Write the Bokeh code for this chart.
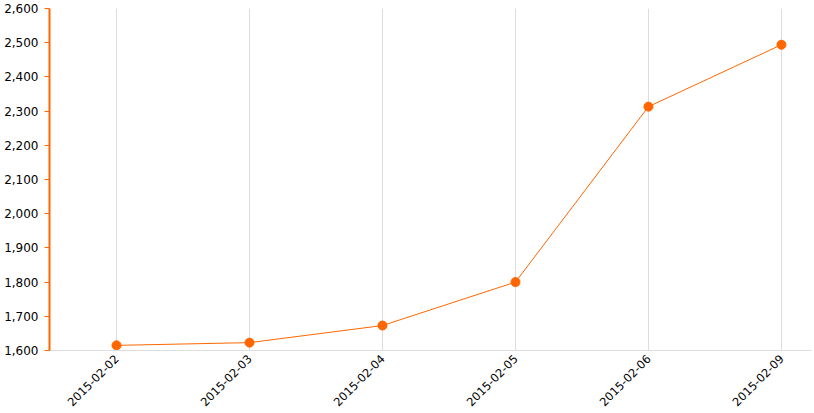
from bokeh.plotting import figure
from bokeh.models import FixedTicker, NumeralTickFormatter, ColumnDataSource
from bokeh.embed import file_html
from bokeh.resources import INLINE
import math

dates = ["2015-02-02", "2015-02-03", "2015-02-04", "2015-02-05", "2015-02-06", "2015-02-09"]
values = [1615, 1623, 1673, 1800, 2313, 2494]
y_ticks = [1600, 1700, 1800, 1900, 2000, 2100, 2200, 2300, 2400, 2500, 2600]

idx = list(range(len(dates)))
src = ColumnDataSource(dict(x=idx, y=values))

p = figure(width=814, height=413, output_backend="svg", toolbar_location=None,
           x_range=(-0.504, 5.226), y_range=(1600, 2600),
           min_border_top=8, min_border_right=3, min_border_left=49, min_border_bottom=63)
p.outline_line_color = None
p.background_fill_color = "white"

p.line("x", "y", source=src, line_color="#FF6600", line_width=1)
p.scatter("x", "y", source=src, size=9, fill_color="#FF6600", line_color="#FF6600")

p.xaxis.ticker = FixedTicker(ticks=idx)
p.xaxis.major_label_overrides = {i: d for i, d in zip(idx, dates)}
p.xaxis.major_label_orientation = math.pi / 4
p.xaxis.axis_line_color = "#dddddd"
p.xaxis.major_tick_line_color = None
p.xaxis.minor_tick_line_color = None
p.xaxis.major_label_text_font = "DejaVu Sans"
p.xaxis.major_label_text_font_size = "11.5px"
p.xaxis.major_label_text_color = "#000000"
p.xaxis.major_label_standoff = 0

p.yaxis.ticker = FixedTicker(ticks=y_ticks)
p.yaxis.formatter = NumeralTickFormatter(format="0,0")
p.yaxis.axis_line_color = "#FF6600"
p.yaxis.axis_line_width = 2
p.yaxis.major_tick_line_color = "#FF6600"
p.yaxis.major_tick_out = 5
p.yaxis.major_tick_in = 0
p.yaxis.minor_tick_line_color = None
p.yaxis.major_label_text_font = "DejaVu Sans"
p.yaxis.major_label_text_font_size = "12px"
p.yaxis.major_label_text_color = "#000000"
p.yaxis.major_label_standoff = 6

p.xgrid.grid_line_color = "#dddddd"
p.xgrid.ticker = FixedTicker(ticks=idx)
p.ygrid.grid_line_color = None

open("out.html", "w").write(file_html(p, INLINE))
